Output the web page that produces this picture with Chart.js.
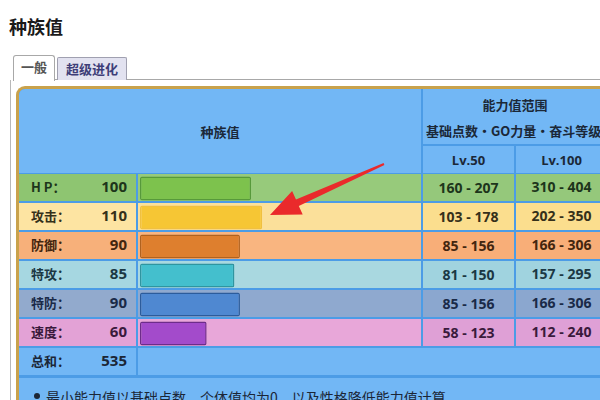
<!DOCTYPE html>
<html><head><meta charset="utf-8">
<script src="https://cdn.jsdelivr.net/npm/chart.js@4.4.1/dist/chart.umd.min.js"></script>
<style>
html,body{margin:0;padding:0;width:600px;height:400px;overflow:hidden;background:#fff;
 font-family:"Open Sans","Noto Sans CJK SC",sans-serif;}
.abs{position:absolute;box-sizing:border-box;}
#title{left:9px;top:13px;font:bold 18px "Noto Sans CJK SC";color:#1a1a1a;}
.tab{font:bold 13px "Noto Sans CJK SC";text-align:center;line-height:22px;}
#tab1{left:13px;top:55px;width:42px;height:26px;background:#fff;border:1px solid #a8a8a8;border-bottom:none;border-radius:3px 3px 0 0;color:#555;}
#tab2{left:57px;top:57px;width:70px;height:23px;background:#e2e2f0;border:1px solid #a0a0b0;border-bottom:none;border-radius:2px 2px 0 0;color:#3e3e78;}
#tabline{left:55px;top:79px;width:560px;height:1px;background:#a8a8a8;}
#panelline{left:10px;top:80px;width:1px;height:330px;background:#b8b8b8;}
#frame{left:16px;top:86px;width:600px;height:330px;border:3px solid #c9a24c;border-right:none;border-radius:9px 0 0 0;background:#4c9ce6;overflow:hidden;}
.cell{position:absolute;box-sizing:border-box;color:#1b2636;font:bold 14px "Open Sans","Noto Sans CJK SC";}
.hd{background:#72b7f5;font:bold 13px "Noto Sans CJK SC";color:#1b2838;}
.ctr{display:flex;align-items:center;justify-content:center;}
</style></head>
<body>
<div id="title" class="abs">种族值</div>
<div id="tabline" class="abs"></div>
<div id="panelline" class="abs"></div>
<div id="tab1" class="abs tab">一般</div>
<div id="tab2" class="abs tab">超级进化</div>
<div id="frame" class="abs"></div>
<canvas id="c" width="283" height="174" class="abs" style="left:138px;top:174px;"></canvas>
<svg class="abs" style="left:0;top:0;" width="600" height="400">
 <polygon id="arrow" fill="#ea2a2b"/>
</svg>
<script>
// ---- data ----
const categories = ['H P：', '攻击：', '防御：', '特攻：', '特防：', '速度：'];
const baseStats = [100, 110, 90, 85, 90, 60];
const totalLabel = '总和：';
const totalValue = [535];
const lv50Ranges = ['160 - 207', '103 - 178', '85 - 156', '81 - 150', '85 - 156', '58 - 123'];
const lv100Ranges = ['310 - 404', '202 - 350', '166 - 306', '157 - 295', '166 - 306', '112 - 240'];
const headerTexts = ['种族值', '能力值范围', '基础点数・GO力量・奋斗等级均为0', 'Lv.50', 'Lv.100'];
const footerText = '最小能力值以基础点数、个体值均为0，以及性格降低能力值计算';

// ---- styles ----
const labelBg = ['#8ec571', '#fde4a2', '#f7b07a', '#a6d7e1', '#92aacd', '#e3a2d6'];
const rowBg   = ['#97ca7b', '#fbe09a', '#f9b580', '#a9d8e0', '#8fa9cf', '#e8a7d9'];
const lvBg    = ['#95c87b', '#fbde8e', '#f8ae78', '#a0d3df', '#8ba7cf', '#dfa0d6'];
const textCol = ['#1d351b', '#35301a', '#43260f', '#1b3844', '#1a2a48', '#3a1a3c'];
const barFill = ['#7dc24d', '#f6c634', '#de7f2e', '#44bfcd', '#4f88d1', '#a34bcb'];
const barLine = ['#57993b', '#f0c040', '#b0621f', '#2f95a0', '#2c5c9c', '#6d2c8a'];

const frame = document.getElementById('frame');
const OX = 19, OY = 89; // frame inner origin
function cell(x1, y1, x2, y2, bg, cls, html, style) {
  const d = document.createElement('div');
  d.className = 'cell ' + (cls || '');
  d.style.left = (x1 - OX) + 'px'; d.style.top = (y1 - OY) + 'px';
  d.style.width = (x2 - x1) + 'px'; d.style.height = (y2 - y1) + 'px';
  if (bg) d.style.background = bg;
  if (html !== undefined) d.innerHTML = html;
  if (style) Object.assign(d.style, style);
  frame.appendChild(d);
  return d;
}
// header
cell(19, 89, 421, 173, null, 'hd ctr', headerTexts[0]);
const hb = cell(423, 89, 620, 144, null, 'hd', '');
hb.innerHTML = '<div style="position:absolute;left:0;width:184px;top:6px;text-align:center;">' + headerTexts[1] +
  '</div><div style="position:absolute;left:3px;top:32px;white-space:nowrap;">' + headerTexts[2] + '</div>';
cell(423, 146, 514, 173, null, 'hd ctr', headerTexts[3], {fontFamily:'"Open Sans"', fontSize:'13px'});
cell(516, 146, 620, 173, null, 'hd', '<div style="position:absolute;left:0;width:91px;top:5px;text-align:center;">' + headerTexts[4] + '</div>', {fontFamily:'"Open Sans"', fontSize:'13px'});
// rows
for (let i = 0; i < categories.length; i++) {
  const y1 = 174 + 29 * i, y2 = y1 + 27;
  const lc = cell(19, y1, 136, y2, labelBg[i], '', '', {color: textCol[i]});
  lc.innerHTML = '<span style="position:absolute;left:12px;top:3px;font-family:\'Noto Sans CJK SC\';font-size:13px;">' + categories[i] +
    '</span><span style="position:absolute;right:9px;top:2px;font-size:15px;">' + baseStats[i] + '</span>';
  cell(138, y1, 421, y2, rowBg[i], '');
  cell(423, y1, 514, y2, lvBg[i], 'ctr', lv50Ranges[i], {color: textCol[i]});
  const c4 = cell(516, y1, 620, y2, lvBg[i], '', '', {color: textCol[i]});
  c4.innerHTML = '<div style="position:absolute;left:0;width:91px;top:3px;text-align:center;">' + lv100Ranges[i] + '</div>';
}
// total row
const ty = 174 + 29 * 6;
const tc = cell(19, ty, 136, ty + 27, '#72b7f5', '');
tc.innerHTML = '<span style="position:absolute;left:12px;top:3px;font-family:\'Noto Sans CJK SC\';font-size:13px;">' + totalLabel +
  '</span><span style="position:absolute;right:9px;top:2px;font-size:15px;">' + totalValue[0] + '</span>';
cell(138, ty, 620, ty + 27, '#72b7f5', '');
// footer
const fc = cell(19, 378, 620, 430, '#72b7f5', '');
fc.innerHTML = '<span style="position:absolute;left:15px;top:15px;width:6px;height:6px;border-radius:3px;background:#1b2636;"></span>' +
  '<span style="position:absolute;left:27px;top:9px;white-space:nowrap;font:normal 14px \'Noto Sans CJK SC\';color:#1b2636;">' + footerText + '</span>';

// ---- bars ----
new Chart(document.getElementById('c'), {
  type: 'bar',
  data: {
    labels: categories,
    datasets: [{
      data: baseStats,
      backgroundColor: barFill,
      borderColor: barLine,
      borderWidth: 1.5,
      borderSkipped: false,
      borderRadius: 2,
      barPercentage: 0.83,
      categoryPercentage: 1
    }]
  },
  options: {
    indexAxis: 'y',
    responsive: false,
    maintainAspectRatio: false,
    animation: false,
    layout: {padding: {left: 2, right: 0, top: 0, bottom: 0}},
    plugins: {legend: {display: false}, tooltip: {enabled: false}},
    scales: {
      x: {display: false, min: 0, max: 253},
      y: {display: false}
    }
  }
});

// ---- annotation arrow ----
(function(){
  const tail = [384, 164], tip = [270, 215];
  const dx = tip[0]-tail[0], dy = tip[1]-tail[1], L = Math.hypot(dx, dy);
  const ux = dx/L, uy = dy/L, nx = -uy, ny = ux;
  const hl = 30, hw = 13, sw0 = 1, sw1 = 3.5;
  const bx = tip[0]-ux*hl, by = tip[1]-uy*hl;
  const pts = [
    [tail[0]+nx*sw0, tail[1]+ny*sw0],
    [bx+nx*sw1, by+ny*sw1],
    [bx+nx*hw, by+ny*hw],
    tip,
    [bx-nx*hw, by-ny*hw],
    [bx-nx*sw1, by-ny*sw1],
    [tail[0]-nx*sw0, tail[1]-ny*sw0]
  ];
  document.getElementById('arrow').setAttribute('points', pts.map(p => p[0].toFixed(1)+','+p[1].toFixed(1)).join(' '));
})();
</script>
</body></html>
